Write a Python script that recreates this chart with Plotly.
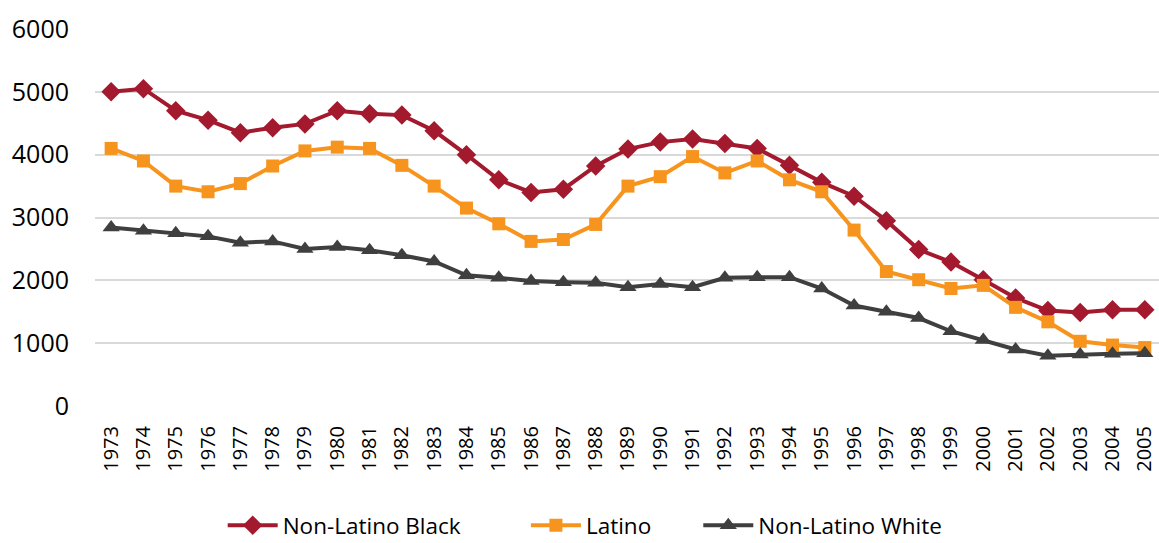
import plotly.graph_objects as go

years = list(range(1973, 2006))

non_latino_black = [5000, 5050, 4700, 4550, 4350, 4430, 4490, 4700, 4650, 4630,
                    4380, 4000, 3600, 3400, 3450, 3820, 4090, 4200, 4250, 4180,
                    4100, 3830, 3560, 3340, 2950, 2490, 2290, 2010, 1720, 1520,
                    1490, 1530, 1530]

latino = [4100, 3900, 3500, 3410, 3540, 3820, 4060, 4120, 4100, 3830,
          3500, 3150, 2900, 2620, 2650, 2890, 3500, 3650, 3970, 3710,
          3900, 3600, 3410, 2800, 2140, 2010, 1870, 1920, 1570, 1340,
          1030, 970, 930]

non_latino_white = [2840, 2790, 2750, 2700, 2600, 2620, 2500, 2530, 2480, 2400,
                    2300, 2080, 2040, 1990, 1970, 1960, 1890, 1940, 1890, 2040,
                    2050, 2050, 1870, 1600, 1500, 1400, 1190, 1050, 900, 800,
                    820, 830, 840]

y_ticks = [0, 1000, 2000, 3000, 4000, 5000, 6000]

# name, values, colour, marker symbol, marker size, legend id, legend x
series = [
    ("Non-Latino Black", non_latino_black, "#A31A2E", "diamond", 15, "legend", 0.120),
    ("Latino", latino, "#F7941D", "square", 13, "legend2", 0.405),
    ("Non-Latino White", non_latino_white, "#3F3F3F", "triangle-up", 15, "legend3", 0.567),
]

fig = go.Figure()
for name, values, color, symbol, size, legend_id, _ in series:
    fig.add_trace(go.Scatter(
        x=years, y=values, name=name, mode="lines+markers",
        line=dict(color=color, width=4),
        marker=dict(symbol=symbol, size=size, color=color),
        legend=legend_id,
    ))

font_family = "Open Sans, DejaVu Sans, sans-serif"

legend_style = dict(
    orientation="h", xanchor="left",
    yref="container", y=0.032, yanchor="middle",
    font=dict(size=22.5, color="black"), itemwidth=50,
    bgcolor="rgba(0,0,0,0)",
)
layout_legends = {}
for _, _, _, _, _, legend_id, lx in series:
    layout_legends[legend_id] = dict(legend_style, x=lx)

fig.update_layout(
    width=1159, height=543,
    margin=dict(l=95, r=0, t=29, b=137, autoexpand=False),
    paper_bgcolor="white", plot_bgcolor="white",
    font=dict(family=font_family, color="black"),
    showlegend=True,
    xaxis=dict(
        range=[1972.5, 2005.44],
        tickmode="array", tickvals=years, ticktext=[str(y) for y in years],
        tickangle=-90, tickfont=dict(size=20),
        showgrid=False, zeroline=False, showline=False, ticks="",
        ticklabelstandoff=15,
    ),
    yaxis=dict(
        range=[0, 6000.5],
        tickmode="array", tickvals=y_ticks,
        tickfont=dict(size=25),
        showgrid=True, gridcolor="#D9D9D9", gridwidth=1.5,
        zeroline=False, showline=False, ticks="",
        ticklabelstandoff=25,
    ),
    **layout_legends,
)

fig.write_html("out.html")
